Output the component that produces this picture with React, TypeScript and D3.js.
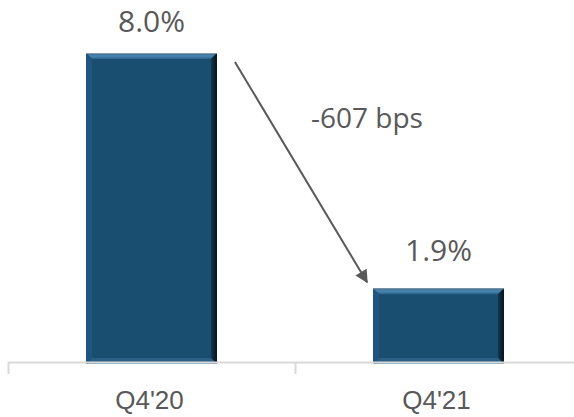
import React from "react";
import * as d3 from "d3";

const categories = ["Q4'20", "Q4'21"];
const values = [8.0, 1.93];
const valueLabels = ["8.0%", "1.9%"];
const changeLabel = "-607 bps";

const W = 574;
const H = 417;

export default function App() {
  const x = d3.scaleBand<string>().domain(categories).range([8, 582]).paddingInner(0).paddingOuter(0);
  const y = d3.scaleLinear().domain([0, 8]).range([363, 53]);
  const bw = x.bandwidth() * 0.456;
  const b = 6;
  const textColor = "#595959";
  const bars = categories.map((c, i) => {
    const cx = (x(c) as number) + x.bandwidth() / 2;
    const x0 = cx - bw / 2;
    const x1 = cx + bw / 2;
    const y0 = y(values[i]);
    const y1 = y(0) + 1;
    return { c, i, cx, x0, x1, y0, y1 };
  });
  const a = bars[0];
  const c2 = bars[1];
  const ax0 = a.x1 + 18;
  const ay0 = a.y0 + 9;
  const ax1 = c2.x0 - 6;
  const ay1 = c2.y0 - 6;
  const ticks = [8, ...categories.map((c) => (x(c) as number) + x.bandwidth())];
  return (
    <svg width={W} height={H} style={{ position: "absolute", left: 0, top: 0 }}>
      <defs>
        <marker id="ah" viewBox="0 0 10 10" refX="9" refY="5" markerWidth="15" markerHeight="13" orient="auto" markerUnits="userSpaceOnUse">
          <path d="M0,0 L10,5 L0,10 z" fill={textColor} />
        </marker>
        <linearGradient id="rightg" x1="0" x2="1" y1="0" y2="0">
          <stop offset="0" stopColor="#12384f" />
          <stop offset="1" stopColor="#06121b" />
        </linearGradient>
        <linearGradient id="topg" x1="0" x2="0" y1="0" y2="1">
          <stop offset="0" stopColor="#2d6690" />
          <stop offset="0.5" stopColor="#4b87b0" />
          <stop offset="1" stopColor="#2a6189" />
        </linearGradient>
      </defs>
      <rect width={W} height={H} fill="#ffffff" />
      {bars.map((r) => (
        <g key={r.c}>
          <rect x={r.x0} y={r.y0} width={r.x1 - r.x0} height={r.y1 - r.y0} fill="#1a4e71" />
          <polygon
            points={`${r.x0},${r.y0} ${r.x1},${r.y0} ${r.x1 - b},${r.y0 + b} ${r.x0 + b},${r.y0 + b}`}
            fill="url(#topg)"
          />
          <polygon
            points={`${r.x0},${r.y0} ${r.x0 + b},${r.y0 + b} ${r.x0 + b},${r.y1 - b} ${r.x0},${r.y1}`}
            fill="#1f5680"
          />
          <polygon
            points={`${r.x1},${r.y0} ${r.x1},${r.y1} ${r.x1 - b},${r.y1 - b} ${r.x1 - b},${r.y0 + b}`}
            fill="url(#rightg)"
          />
          <polygon
            points={`${r.x0},${r.y1} ${r.x1},${r.y1} ${r.x1 - b},${r.y1 - b} ${r.x0 + b},${r.y1 - b}`}
            fill="#2a5f86"
          />
          <rect x={r.x0} y={r.y1 - 2} width={r.x1 - r.x0} height={2} fill="#5f8fb0" />
          <line x1={r.x0} x2={r.x1} y1={r.y0 + 0.5} y2={r.y0 + 0.5} stroke="#8a9aa8" strokeWidth={1} />
          <text
            x={r.cx}
            y={Math.max(32, r.y0 - 27)}
            textAnchor="middle"
            fontFamily="'Open Sans', sans-serif"
            fontSize={30}
            fill={textColor}
          >
            {valueLabels[r.i]}
          </text>
          <text
            x={r.cx - 2}
            y={409}
            textAnchor="middle"
            fontFamily="'Liberation Sans', Arial, sans-serif"
            fontSize={26}
            fill={textColor}
          >
            {r.c}
          </text>
        </g>
      ))}
      <line x1={8} x2={W} y1={362.5} y2={362.5} stroke="#d9d9d9" strokeWidth={2} />
      {ticks.map((t, i) => (
        <line key={i} x1={t + 0.5} x2={t + 0.5} y1={362} y2={374} stroke="#d9d9d9" strokeWidth={2} />
      ))}
      <line x1={ax0} y1={ay0} x2={ax1} y2={ay1} stroke={textColor} strokeWidth={2} markerEnd="url(#ah)" />
      <text x={367} y={128} textAnchor="middle" fontFamily="'Open Sans', sans-serif" fontSize={28} fill={textColor}>
        {changeLabel}
      </text>
    </svg>
  );
}
